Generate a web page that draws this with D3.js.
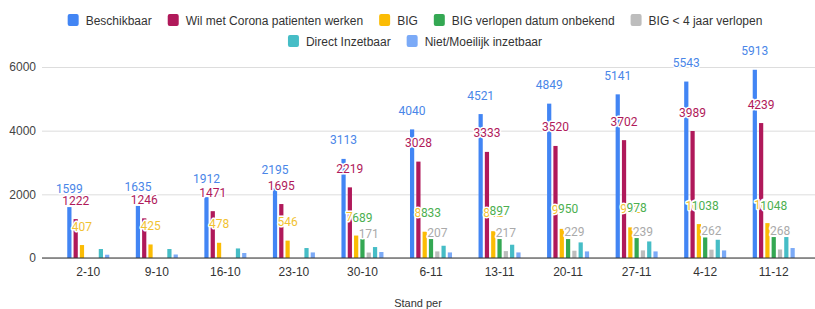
<!DOCTYPE html>
<html>
<head>
<meta charset="utf-8">
<script src="https://cdn.jsdelivr.net/npm/d3@7"></script>
<style>
  body { margin: 0; background: #fff; }
  svg { display: block; font-family: 'Liberation Sans', Arial, sans-serif; }
  .grid line { stroke: #dddddd; }
  .grid text { fill: #444; font-size: 12px; }
  .xaxis text { fill: #333; font-size: 12px; }
  .lbl { font-family: Roboto, sans-serif; font-size: 12px; paint-order: stroke; stroke: #fff; stroke-width: 3px; stroke-linejoin: round; }
</style>
</head>
<body>
<div id="chart"></div>
<script>
// Data
var dates = ['2-10','9-10','16-10','23-10','30-10','6-11','13-11','20-11','27-11','4-12','11-12'];
var beschikbaar = [1599, 1635, 1912, 2195, 3113, 4040, 4521, 4849, 5141, 5543, 5913];
var wilCorona = [1222, 1246, 1471, 1695, 2219, 3028, 3333, 3520, 3702, 3989, 4239];
var big = [407, 425, 478, 546, 705, 826, 842, 915, 962, 1065, 1096];
var bigOnbekend = [0, 0, 0, 0, 595, 595, 595, 595, 626, 645, 658];
var bigVerlopen = [0, 0, 0, 0, 171, 207, 217, 229, 239, 262, 268];
var directInzetbaar = [282, 282, 300, 313, 344, 385, 417, 490, 520, 573, 658];
var nietInzetbaar = [103, 110, 157, 175, 188, 175, 175, 207, 207, 238, 313];
// labels shown in green above the BIG bars
var onbekendLabels = [null, null, null, null, 689, 833, 897, 950, 978, 1038, 1048];
var yTicks = [0, 2000, 4000, 6000];

var series = [
  {name: 'Beschikbaar', values: beschikbaar, color: '#4285f4', label: true},
  {name: 'Wil met Corona patienten werken', values: wilCorona, color: '#b0195a', label: true},
  {name: 'BIG', values: big, color: '#fbbc04', label: true},
  {name: 'BIG verlopen datum onbekend', values: bigOnbekend, color: '#34a853', label: false, extra: onbekendLabels},
  {name: 'BIG < 4 jaar verlopen', values: bigVerlopen, color: '#bdbdbd', label: true},
  {name: 'Direct Inzetbaar', values: directInzetbaar, color: '#46bdc6', label: false},
  {name: 'Niet/Moeilijk inzetbaar', values: nietInzetbaar, color: '#7baaf7', label: false}
];
var labelColors = ['#4a86e8', '#b0195a', '#f1c232', '#4caf50', '#aaaaaa'];

var svgWidth = 815, svgHeight = 309;
var left = 42;

var svg = d3.select('#chart').append('svg')
    .attr('width', svgWidth)
    .attr('height', svgHeight);

var y = d3.scaleLinear().domain([0, 6000]).range([258, 67]);

var x0 = d3.scaleBand()
    .domain(dates)
    .range([54, 808])
    .paddingInner(0.387)
    .paddingOuter(0.1935);

var x1 = d3.scaleBand()
    .domain(series.map(function(s) { return s.name; }))
    .range([0, x0.bandwidth()])
    .paddingInner(0.33);

// gridlines + y labels
var grid = svg.append('g')
    .attr('class', 'grid')
    .attr('transform', 'translate(' + left + ',0)')
    .call(d3.axisLeft(y).tickValues(yTicks).tickSize(-(svgWidth - left)).tickPadding(6).tickFormat(d3.format('d')));
grid.select('.domain').remove();

// bars
var groups = svg.append('g').selectAll('g')
    .data(dates)
    .enter().append('g')
    .attr('transform', function(d) { return 'translate(' + x0(d) + ',0)'; });

groups.selectAll('rect')
    .data(function(d, i) {
        return series.map(function(s) { return {name: s.name, color: s.color, v: s.values[i]}; });
    })
    .enter().append('rect')
    .attr('x', function(d) { return x1(d.name); })
    .attr('width', x1.bandwidth())
    .attr('y', function(d) { return y(d.v); })
    .attr('height', function(d) { return y(0) - y(d.v); })
    .attr('fill', function(d) { return d.color; });

// baseline
svg.append('line')
    .attr('x1', left).attr('x2', svgWidth)
    .attr('y1', y(0)).attr('y2', y(0))
    .attr('stroke', '#333').attr('stroke-width', 1.2);

// x axis
var xAxis = svg.append('g')
    .attr('class', 'xaxis')
    .attr('transform', 'translate(0,' + y(0) + ')')
    .call(d3.axisBottom(x0).tickSize(0).tickPadding(9));
xAxis.select('.domain').remove();

// data labels
var labelLayer = svg.append('g');
series.forEach(function(s, si) {
    if (!s.label && !s.extra) return;
    var vals = s.extra ? s.extra : s.values;
    dates.forEach(function(d, i) {
        var v = vals[i];
        if (!v) return;
        labelLayer.append('text')
            .attr('class', 'lbl')
            .attr('x', x0(d) + x1(s.name) + x1.bandwidth() / 2)
            .attr('y', y(v) - 14.5)
            .attr('text-anchor', 'middle')
            .attr('fill', labelColors[si])
            .text(v);
    });
});

// axis title
svg.append('text')
    .attr('x', 418).attr('y', 307)
    .attr('text-anchor', 'middle')
    .attr('fill', '#333')
    .style('font-size', '11px')
    .text('Stand per');

// legend, two centered rows
var rows = [series.slice(0, 5), series.slice(5)];
var rowY = [20, 41];
rows.forEach(function(row, ri) {
    var g = svg.append('g');
    var cx = 0;
    row.forEach(function(s) {
        g.append('rect')
            .attr('x', cx).attr('y', rowY[ri] - 6)
            .attr('width', 11).attr('height', 12)
            .attr('rx', 2)
            .attr('fill', s.color);
        var t = g.append('text')
            .attr('x', cx + 18).attr('y', rowY[ri] + 4.5)
            .attr('fill', '#333')
            .style('font-size', '12px')
            .text(s.name);
        cx += 18 + t.node().getComputedTextLength() + 16;
    });
    var w = cx - 16;
    g.attr('transform', 'translate(' + (415 - w / 2) + ',0)');
});
</script>
</body>
</html>
